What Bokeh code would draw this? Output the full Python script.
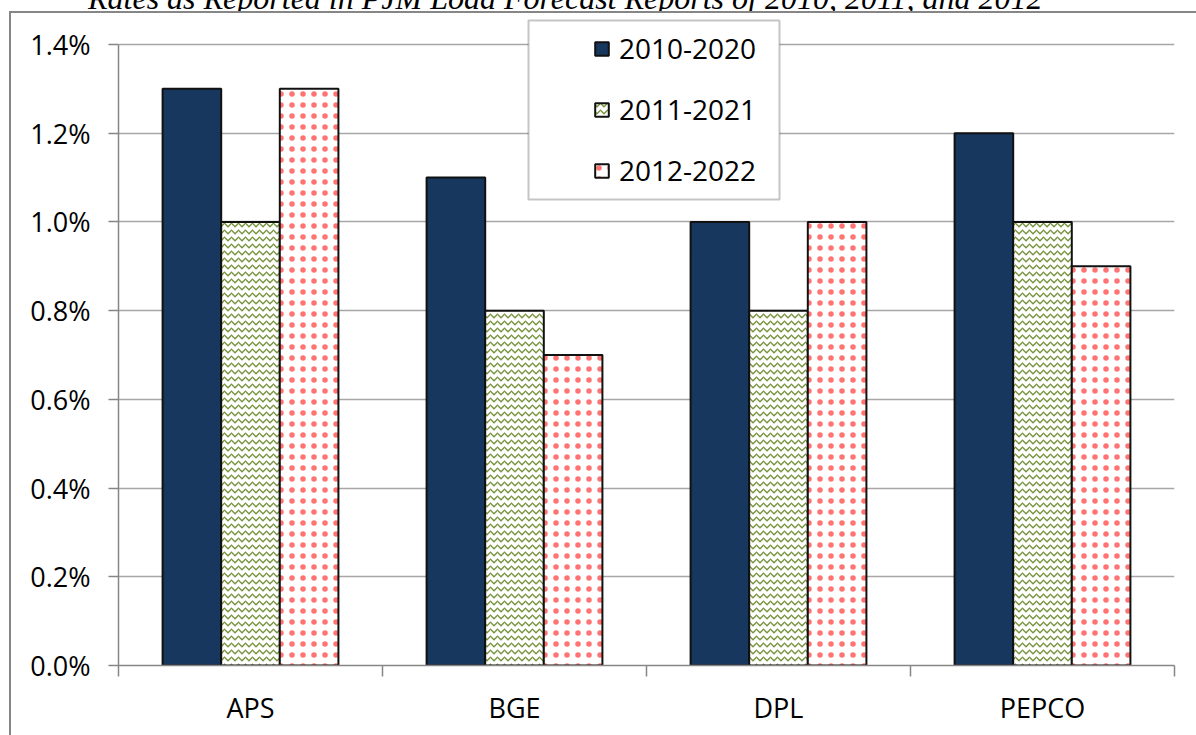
from bokeh.plotting import figure
from bokeh.layouts import column
from bokeh.models import (Range1d, FixedTicker, NumeralTickFormatter, Legend, LegendItem,
                          BoxAnnotation, ColumnDataSource, Node, Div)
from bokeh.transform import dodge
from bokeh.embed import file_html
from bokeh.resources import INLINE

# ---- data ----
categories = ["APS", "BGE", "DPL", "PEPCO"]
series_names = ["2010-2020", "2011-2021", "2012-2022"]
v2010 = [0.013, 0.011, 0.010, 0.012]
v2011 = [0.010, 0.008, 0.008, 0.010]
v2012 = [0.013, 0.007, 0.010, 0.009]
y_ticks = [0.0, 0.002, 0.004, 0.006, 0.008, 0.010, 0.012, 0.014]
title_text = "Rates as Reported in PJM Load Forecast Reports of 2010, 2011, and 2012"

FONT = "Open Sans"
centers = [i + 0.5 for i in range(len(categories))]
bounds = [float(i) for i in range(len(categories) + 1)]

src = ColumnDataSource(dict(x=centers, cat=categories, a=v2010, b=v2011, c=v2012))

# ---------- strip with the (cut-off) title ----------
TH = 11
title_div = Div(
    text=('<div style="position:relative; left:88px; top:-18px; white-space:nowrap; '
          'font-family:\'Liberation Serif\', serif; font-style:italic; font-size:32px; '
          'line-height:32px; color:black;">' + title_text + '</div>'),
    width=1196, height=TH, margin=0,
    styles={"overflow": "hidden", "position": "relative", "background-color": "white"})

# ---------- main chart ----------
H = 735 - TH
top_px, zero_px, max_px = 13 - TH, 665 - TH, 44 - TH
y_top = y_ticks[-1] * (zero_px - top_px) / (zero_px - max_px)

p = figure(width=1196, height=H, output_backend="svg", toolbar_location=None,
           x_range=Range1d(0, len(categories)), y_range=Range1d(0, y_top),
           min_border_left=118, min_border_right=22, min_border_top=top_px,
           min_border_bottom=H - zero_px)
p.outline_line_color = None
p.background_fill_color = "white"
p.border_fill_color = None
# outer chart border: left and top edges (drawn behind the transparent canvas border)
p.styles = {
    "background-color": "white",
    "background-image": "linear-gradient(#868686, #868686), linear-gradient(#868686, #868686)",
    "background-size": "2px 100%, 100% 2px",
    "background-position": "9px 0px, 9px 0px",
    "background-repeat": "no-repeat",
}

bw = 0.222
r1 = p.vbar(x=dodge("x", -bw, range=p.x_range), top="a", width=bw, source=src,
            fill_color="#17375E", line_color="#111111", line_width=2)
r2 = p.vbar(x=dodge("x", 0.0, range=p.x_range), top="b", width=bw, source=src,
            fill_color="white", line_color="#111111", line_width=2,
            hatch_pattern="horizontal_wave", hatch_color="#77933C", hatch_scale=7, hatch_weight=1.3)
r3 = p.vbar(x=dodge("x", bw, range=p.x_range), top="c", width=bw, source=src,
            fill_color="white", line_color="#111111", line_width=2,
            hatch_pattern="dot", hatch_color="#FF0000", hatch_scale=11, hatch_weight=1, hatch_alpha=0.55)

p.xgrid.visible = False
p.ygrid.ticker = FixedTicker(ticks=y_ticks)
p.ygrid.grid_line_color = "#A6A6A6"
p.ygrid.grid_line_width = 1.5

xa = p.xaxis[0]
xa.ticker = FixedTicker(ticks=centers, minor_ticks=bounds)
xa.major_label_overrides = {c: n for c, n in zip(centers, categories)}
xa.major_tick_line_color = None
xa.major_tick_out = 0
xa.major_tick_in = 0
xa.minor_tick_out = 11
xa.minor_tick_in = 0
xa.minor_tick_line_color = "#868686"
xa.minor_tick_line_width = 1.5
xa.axis_line_color = "#868686"
xa.axis_line_width = 1.5
xa.major_label_text_font = FONT
xa.major_label_text_font_size = "27px"
xa.major_label_text_color = "black"
xa.major_label_standoff = 12

ya = p.yaxis[0]
ya.ticker = FixedTicker(ticks=y_ticks)
ya.bounds = (0, y_ticks[-1])
ya.formatter = NumeralTickFormatter(format="0.0%")
ya.major_tick_out = 10
ya.major_tick_in = 0
ya.minor_tick_line_color = None
ya.major_tick_line_color = "#868686"
ya.major_tick_line_width = 1.5
ya.axis_line_color = "#868686"
ya.axis_line_width = 1.5
ya.major_label_text_font = FONT
ya.major_label_text_font_size = "27px"
ya.major_label_text_color = "black"
ya.major_label_standoff = 18

# legend frame
lbox = BoxAnnotation(left=Node(target="canvas", symbol="left", offset=528),
                     top=Node(target="canvas", symbol="top", offset=20 - TH),
                     right=Node(target="canvas", symbol="left", offset=779),
                     bottom=Node(target="canvas", symbol="top", offset=199 - TH),
                     fill_color="white", fill_alpha=1, line_color="#404040", line_width=2)
p.add_layout(lbox)

legend = Legend(items=[LegendItem(label=series_names[0], renderers=[r1]),
                       LegendItem(label=series_names[1], renderers=[r2]),
                       LegendItem(label=series_names[2], renderers=[r3])],
                location=(475, 476), border_line_color=None, background_fill_alpha=0,
                padding=0, margin=0, spacing=23, glyph_width=17, glyph_height=17,
                label_standoff=9, label_text_font=FONT, label_text_font_size="28px",
                label_text_color="black")
p.add_layout(legend)

layout = column(title_div, p, spacing=0)
open("out.html", "w").write(file_html(layout, INLINE))
